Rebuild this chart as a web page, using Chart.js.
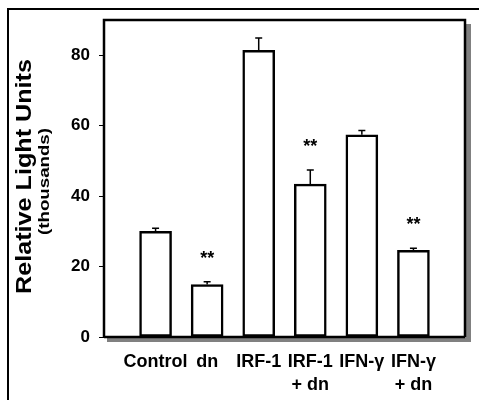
<!DOCTYPE html>
<html>
<head>
<meta charset="utf-8">
<script src="https://cdn.jsdelivr.net/npm/chart.js@4/dist/chart.umd.min.js"></script>
<style>
  html, body { margin: 0; padding: 0; background: #fff; }
  #wrap { width: 479px; height: 400px; position: relative; }
</style>
</head>
<body>
<div id="wrap"><canvas id="chart"></canvas></div>
<script>
// data (RLU, thousands)
const categories = ['Control', 'dn', 'IRF-1', ['IRF-1', '+ dn'], 'IFN-γ', ['IFN-γ', '+ dn']];
const values = [30.0, 14.9, 81.4, 43.4, 57.4, 24.6];
const errors = [0.9, 0.8, 3.5, 4.0, 1.2, 0.6];
const marks = ['', '**', '', '**', '', '**'];
const yTicks = [0, 20, 40, 60, 80];
const yMax = 90;

const font = "'Liberation Sans', Arial, sans-serif";

// pad one empty slot each side so bars sit at 1..6 of 0..7
const labels = [''].concat(categories, ['']);
const barData = [null].concat(values, [null]);

// frame, shading, titles
const framePlugin = {
    id: 'frame',
    beforeDraw(chart) {
        const { ctx, chartArea: a } = chart;
        ctx.save();
        ctx.fillStyle = '#fff';
        ctx.fillRect(0, 0, chart.width, chart.height);
        // outer box (left + top)
        ctx.strokeStyle = '#000';
        ctx.lineWidth = 2;
        ctx.beginPath();
        ctx.moveTo(8, 400);
        ctx.lineTo(8, 9);
        ctx.lineTo(479, 9);
        ctx.stroke();
        // drop shading right and bottom
        ctx.fillStyle = '#808080';
        ctx.fillRect(a.right, a.top + 4, 6, a.bottom - a.top + 1);
        ctx.fillRect(a.left + 3, a.bottom, a.right - a.left + 3, 5);
        ctx.restore();
    },
    afterDraw(chart) {
        const { ctx, chartArea: a } = chart;
        ctx.save();
        ctx.strokeStyle = '#000';
        ctx.lineWidth = 2.5;
        ctx.beginPath();
        ctx.moveTo(a.left, a.bottom);
        ctx.lineTo(a.left, a.top);
        ctx.lineTo(a.right, a.top);
        ctx.lineTo(a.right, a.bottom);
        ctx.moveTo(a.left, a.bottom);
        ctx.lineTo(a.right, a.bottom);
        ctx.stroke();

        // y title, two lines
        const cy = (a.top + a.bottom) / 2;
        ctx.fillStyle = '#000';
        ctx.textAlign = 'center';
        ctx.textBaseline = 'middle';
        ctx.save();
        ctx.translate(25, cy - 2);
        ctx.rotate(-Math.PI / 2);
        ctx.font = 'bold 22px ' + font;
        let w = ctx.measureText('Relative Light Units').width;
        ctx.scale(235 / w, 1);
        ctx.fillText('Relative Light Units', 0, 0);
        ctx.restore();
        ctx.save();
        ctx.translate(45, cy + 3);
        ctx.rotate(-Math.PI / 2);
        ctx.font = 'bold 14px ' + font;
        w = ctx.measureText('(thousands)').width;
        ctx.scale(107 / w, 1);
        ctx.fillText('(thousands)', 0, 0);
        ctx.restore();
        ctx.restore();
    }
};

// error bars + significance stars
const errorPlugin = {
    id: 'errs',
    afterDatasetsDraw(chart) {
        const { ctx, scales: { x, y } } = chart;
        ctx.save();
        ctx.strokeStyle = '#000';
        ctx.lineWidth = 1.5;
        ctx.fillStyle = '#000';
        ctx.textAlign = 'center';
        ctx.textBaseline = 'middle';
        ctx.font = 'bold 18px ' + font;
        values.forEach((v, i) => {
            const px = x.getPixelForValue(i + 1);
            const y0 = y.getPixelForValue(v);
            const y1 = y.getPixelForValue(v + errors[i]);
            ctx.beginPath();
            ctx.moveTo(px, y0);
            ctx.lineTo(px, y1);
            ctx.moveTo(px - 3.5, y1);
            ctx.lineTo(px + 3.5, y1);
            ctx.stroke();
            if (marks[i]) ctx.fillText(marks[i], px, y1 - 23);
        });
        ctx.restore();
    }
};

new Chart(document.getElementById('chart'), {
    type: 'bar',
    data: {
        labels: labels,
        datasets: [{
            data: barData,
            backgroundColor: '#fff',
            borderColor: '#000',
            borderWidth: 2.5,
            borderSkipped: false,
            barThickness: 32
        }]
    },
    options: {
        responsive: true,
        maintainAspectRatio: false,
        animation: false,
        layout: { padding: { left: 0, top: 20, right: 14, bottom: 0 } },
        plugins: { legend: { display: false }, tooltip: { enabled: false } },
        scales: {
            x: {
                offset: false,
                grid: { display: false },
                border: { display: false },
                afterFit(s) { s.height = 63; },
                ticks: {
                    color: '#000',
                    padding: 6,
                    maxRotation: 0,
                    autoSkip: false,
                    font: { family: font, size: 18, weight: 'bold', lineHeight: 1.25 }
                }
            },
            y: {
                min: 0,
                max: yMax,
                afterFit(s) { s.width = 104; },
                afterBuildTicks(s) { s.ticks = yTicks.map(v => ({ value: v })); },
                border: { display: false },
                grid: { drawOnChartArea: false, drawTicks: true, tickLength: 5, color: '#000', lineWidth: 1 },
                ticks: {
                    color: '#000',
                    padding: 9,
                    font: { family: font, size: 17, weight: 'bold' }
                }
            }
        }
    },
    plugins: [framePlugin, errorPlugin]
});
</script>
</body>
</html>
